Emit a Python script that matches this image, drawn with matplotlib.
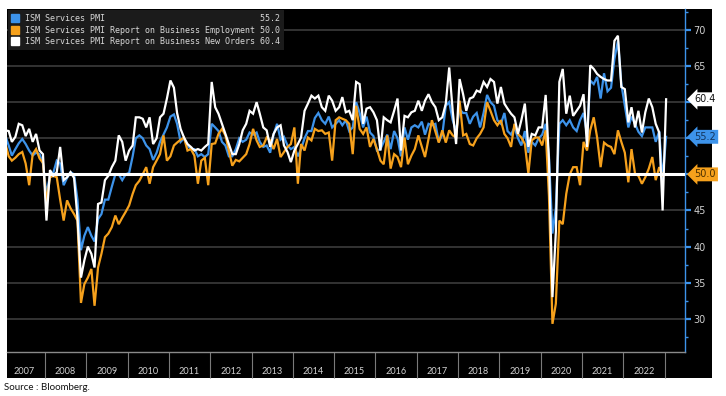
import numpy as np
import pandas as pd
import matplotlib
matplotlib.use('Agg')
import matplotlib.pyplot as plt
import matplotlib.transforms as mtransforms
from matplotlib.patches import Rectangle
from matplotlib.lines import Line2D

# monthly readings, Jan 2007 .. Jan 2023 (one row per year)
months = pd.date_range('2007-01-01', '2023-01-01', freq='MS') + pd.Timedelta(days=14)

pmi = [
    55.4, 54.0, 52.6, 53.5, 54.3, 54.9, 54.2, 53.3, 52.6, 53.0, 52.8, 51.5,
    47.3, 49.8, 50.2, 51.9, 51.5, 48.5, 49.5, 50.3, 50.0, 46.5, 39.5, 41.5,
    42.7, 41.5, 40.7, 43.8, 44.5, 46.5, 46.5, 48.3, 50.0, 50.0, 49.2, 50.0,
    50.2, 52.5, 55.0, 55.4, 55.0, 54.0, 53.5, 52.0, 53.0, 54.5, 55.5, 56.5,
    58.0, 58.3, 57.0, 54.5, 55.0, 54.0, 53.5, 53.5, 52.5, 52.8, 52.4, 52.8,
    57.0, 56.5, 56.0, 54.5, 54.0, 52.5, 52.5, 53.5, 55.0, 54.5, 54.8, 55.8,
    55.5, 55.8, 54.5, 53.8, 54.0, 53.0, 55.5, 57.0, 54.8, 55.2, 54.0, 53.5,
    53.8, 52.5, 53.5, 55.0, 56.0, 56.0, 57.8, 58.5, 57.5, 57.0, 58.0, 56.5,
    57.0, 57.5, 56.8, 57.5, 56.0, 56.5, 60.0, 58.5, 56.5, 58.0, 55.8, 55.3,
    53.3, 53.5, 54.5, 55.5, 53.5, 56.0, 55.0, 52.5, 56.5, 54.8, 56.5, 56.8,
    56.5, 57.3, 55.5, 57.0, 56.8, 57.0, 54.5, 55.5, 59.5, 60.0, 57.5, 56.0,
    59.0, 58.5, 58.5, 57.0, 58.0, 58.5, 56.5, 58.5, 61.0, 60.0, 59.5, 57.5,
    57.0, 58.5, 56.0, 55.5, 56.5, 55.0, 54.0, 56.0, 53.0, 54.5, 54.0, 55.0,
    55.5, 57.0, 52.5, 41.8, 45.4, 57.0, 57.5, 56.8, 57.5, 56.5, 56.0, 57.5,
    58.5, 55.5, 63.0, 62.5, 63.5, 60.5, 64.0, 61.5, 62.0, 66.0, 68.5, 62.5,
    59.5, 56.5, 58.0, 57.0, 55.9, 55.3, 56.5, 56.5, 56.5, 54.5, 56.0, 49.2,
    55.2,
]

employment = [
    54.4, 52.5, 51.9, 52.3, 52.8, 53.1, 51.5, 48.5, 52.8, 53.5, 52.2, 51.6,
    46.1, 49.6, 49.8, 49.6, 46.5, 43.6, 46.4, 45.3, 44.5, 43.6, 32.2, 34.8,
    35.7, 36.9, 31.8, 37.1, 39.0, 41.3, 41.8, 42.7, 44.3, 43.1, 44.0, 44.8,
    45.7, 47.3, 48.5, 49.1, 50.0, 51.0, 48.7, 51.0, 51.9, 52.8, 55.4, 51.9,
    52.5, 54.0, 54.4, 54.8, 55.1, 53.3, 53.5, 52.6, 48.7, 51.9, 52.3, 48.5,
    54.2, 54.3, 55.6, 56.3, 55.4, 53.3, 51.2, 52.0, 51.8, 52.3, 52.8, 54.2,
    56.3, 54.7, 53.8, 54.0, 55.1, 54.7, 53.5, 54.9, 52.4, 53.1, 53.8, 54.2,
    56.5, 48.7, 54.2, 53.3, 55.1, 54.7, 56.3, 56.0, 56.1, 55.6, 55.8, 51.9,
    57.5, 57.9, 57.7, 57.5, 57.0, 52.8, 59.5, 56.3, 55.6, 56.5, 53.8, 54.9,
    53.5, 51.9, 51.4, 55.4, 50.8, 52.8, 52.4, 51.0, 55.1, 51.4, 52.6, 53.5,
    55.4, 53.8, 52.4, 54.9, 57.5, 55.9, 54.4, 56.1, 54.4, 56.1, 55.4, 55.1,
    60.2, 55.4, 55.6, 54.2, 54.0, 55.0, 55.6, 56.5, 60.0, 58.8, 57.5, 56.8,
    57.5, 55.6, 55.0, 53.8, 57.0, 55.6, 55.1, 54.2, 50.1, 54.7, 55.1, 55.1,
    54.0, 56.1, 47.0, 29.3, 32.1, 43.6, 43.1, 47.3, 50.0, 51.0, 51.0, 48.5,
    54.5, 53.3, 56.1, 57.9, 55.1, 51.0, 54.4, 54.0, 53.8, 52.8, 56.1, 54.5,
    53.0, 48.9, 53.5, 50.1, 49.8, 48.7, 49.6, 50.8, 52.4, 49.2, 51.0, 49.8,
    50.0,
]

new_orders = [
    56.1, 56.0, 54.5, 55.2, 57.0, 56.8, 55.3, 56.3, 54.5, 55.6, 53.3, 52.8,
    43.6, 50.6, 49.8, 50.3, 53.8, 49.2, 49.6, 50.3, 49.5, 44.0, 35.7, 38.1,
    40.0, 39.0, 37.1, 45.9, 46.1, 49.2, 49.8, 51.0, 51.9, 55.4, 54.5, 51.9,
    53.3, 54.0, 57.9, 57.9, 57.7, 56.5, 57.9, 54.2, 55.0, 57.9, 58.4, 60.5,
    63.0, 62.0, 58.5, 56.3, 55.1, 54.2, 53.8, 53.3, 53.5, 53.3, 53.8, 54.2,
    62.8, 59.3, 58.4, 57.0, 55.6, 54.2, 52.8, 52.8, 54.2, 56.1, 57.0, 58.8,
    58.4, 60.0, 58.4, 56.5, 56.1, 53.8, 55.6, 56.5, 56.8, 54.0, 53.1, 51.7,
    53.3, 54.2, 55.1, 58.8, 59.8, 60.9, 60.5, 60.9, 59.3, 58.8, 60.9, 60.2,
    58.8, 59.3, 60.7, 58.6, 58.8, 57.5, 62.8, 62.5, 57.0, 59.1, 59.3, 58.6,
    57.5, 53.3, 57.9, 57.5, 57.2, 58.8, 60.5, 53.3, 58.1, 57.9, 58.6, 58.8,
    60.2, 58.8, 60.2, 61.1, 60.0, 59.3, 57.5, 57.9, 59.8, 64.8, 58.8, 54.2,
    63.2, 61.1, 58.8, 60.5, 60.7, 61.6, 61.4, 62.8, 62.1, 63.2, 62.8, 59.8,
    62.1, 59.8, 59.1, 58.4, 57.9, 55.6, 57.5, 59.8, 53.8, 55.6, 55.4, 56.5,
    56.5, 61.0, 52.0, 33.0, 42.0, 62.8, 64.6, 58.4, 60.9, 58.1, 58.8, 59.5,
    61.1, 53.8, 65.1, 64.6, 63.9, 63.5, 63.2, 63.0, 63.0, 68.5, 69.2, 62.1,
    61.8, 57.2, 59.3, 56.5, 58.8, 55.8, 58.6, 60.5, 59.3, 57.0, 55.8, 45.0,
    60.4,
]

series_names = [
    'ISM Services PMI',
    'ISM Services PMI Report on Business Employment',
    'ISM Services PMI Report on Business New Orders',
]
series_colors = ['#3d93ea', '#f6a11c', '#ffffff']
tag_text_colors = ['#13355e', '#4a2f00', '#111111']
years = list(range(2007, 2023))

W, H = 726, 396


def fx(px):
    return px / W


def fy(py):
    return 1 - py / H


fig = plt.figure(figsize=(W / 100, H / 100), dpi=100)
fig.patch.set_facecolor('white')

# black panel behind the chart and the year strip
fig.patches.append(Rectangle((fx(7), fy(378)), fx(712) - fx(7), fy(9) - fy(378),
                             transform=fig.transFigure, facecolor='black',
                             edgecolor='none', zorder=-10))

ax = fig.add_axes([fx(7), fy(352), fx(685) - fx(7), fy(9) - fy(352)])
ax.set_zorder(1)
ax.set_facecolor('black')

all_series = [pmi, employment, new_orders]
for vals, color in zip(all_series, series_colors):
    ax.plot(months, vals, color=color, lw=1.6, zorder=3, solid_joinstyle='miter')

ax.axhline(50, color='white', lw=2.2, zorder=5)

ax.set_xlim(pd.Timestamp('2007-01-31'), pd.Timestamp('2023-07-01'))
ax.set_ylim(25.4, 72.9)

# y axis on the right
ax.yaxis.tick_right()
major = np.arange(30, 71, 5)
ax.set_yticks(major)
ax.set_yticklabels(['' if v in (50, 55, 60) else str(v) for v in major])
ax.set_yticks(np.arange(27.5, 73, 5), minor=True)
ax.tick_params(axis='y', which='major', direction='out', length=4, width=1.6,
               color=series_colors[0], labelcolor='#cfcfcf', labelsize=7, pad=2)
ax.tick_params(axis='y', which='minor', direction='out', length=2.5, width=1,
               color=series_colors[0])
ax.grid(axis='y', which='major', color='#3c3c3c', lw=1.2)
ax.set_axisbelow(True)

# year strip: separators at year starts, labels mid-year
year_starts = [pd.Timestamp(f'{y}-01-01') for y in range(2008, 2024)]
mid_years = [pd.Timestamp(f'{y}-07-01') for y in years]
ax.set_xticks(year_starts)
ax.set_xticklabels([])
ax.set_xticks(mid_years, minor=True)
ax.set_xticklabels([str(y) for y in years], minor=True)
ax.tick_params(axis='x', which='major', direction='out', length=18.5, width=0.8,
               color='#7a7a7a')
ax.tick_params(axis='x', which='minor', length=0, pad=10.5, labelsize=6.6,
               labelcolor='#d0d0d0')
for lbl in ax.get_xticklabels(minor=True):
    lbl.set_family('Lato')

for side in ('left', 'top'):
    ax.spines[side].set_visible(False)
ax.spines['right'].set_color(series_colors[0])
ax.spines['right'].set_linewidth(1)
ax.spines['bottom'].set_color('#8a8a8a')
ax.spines['bottom'].set_linewidth(1)

# last-value tags on the right axis
trans = mtransforms.blended_transform_factory(ax.transAxes, ax.transData)
for vals, color, tcolor in zip(all_series, series_colors, tag_text_colors):
    last = vals[-1]
    ax.text(1.014, last, f'{last:.1f}', transform=trans, ha='left', va='center',
            fontsize=7, color=tcolor, zorder=6, clip_on=False,
            bbox=dict(boxstyle='larrow,pad=0.2', fc=color, ec='none'))

# legend with last values
handles = [Line2D([], [], marker='s', ls='', color=c, markersize=6) for c in series_colors]
labels = [f'{n:<47}{v[-1]:.1f}' for n, v in zip(series_names, all_series)]
leg = ax.legend(handles, labels, loc='upper left', bbox_to_anchor=(0.0, 1.0),
                prop={'family': 'DejaVu Sans Mono', 'size': 6},
                facecolor='#1b1b1b', edgecolor='none', framealpha=1,
                fancybox=False, labelcolor='#d8d8d8', handlelength=0.6,
                handletextpad=1.0, labelspacing=0.32, borderpad=0.45,
                borderaxespad=0.15)
leg.set_zorder(7)

fig.text(fx(4), fy(388), 'Source : Bloomberg.', fontsize=7, family='Lato',
         color='#111111', va='center', ha='left')

fig.savefig('out.png', dpi=100)
